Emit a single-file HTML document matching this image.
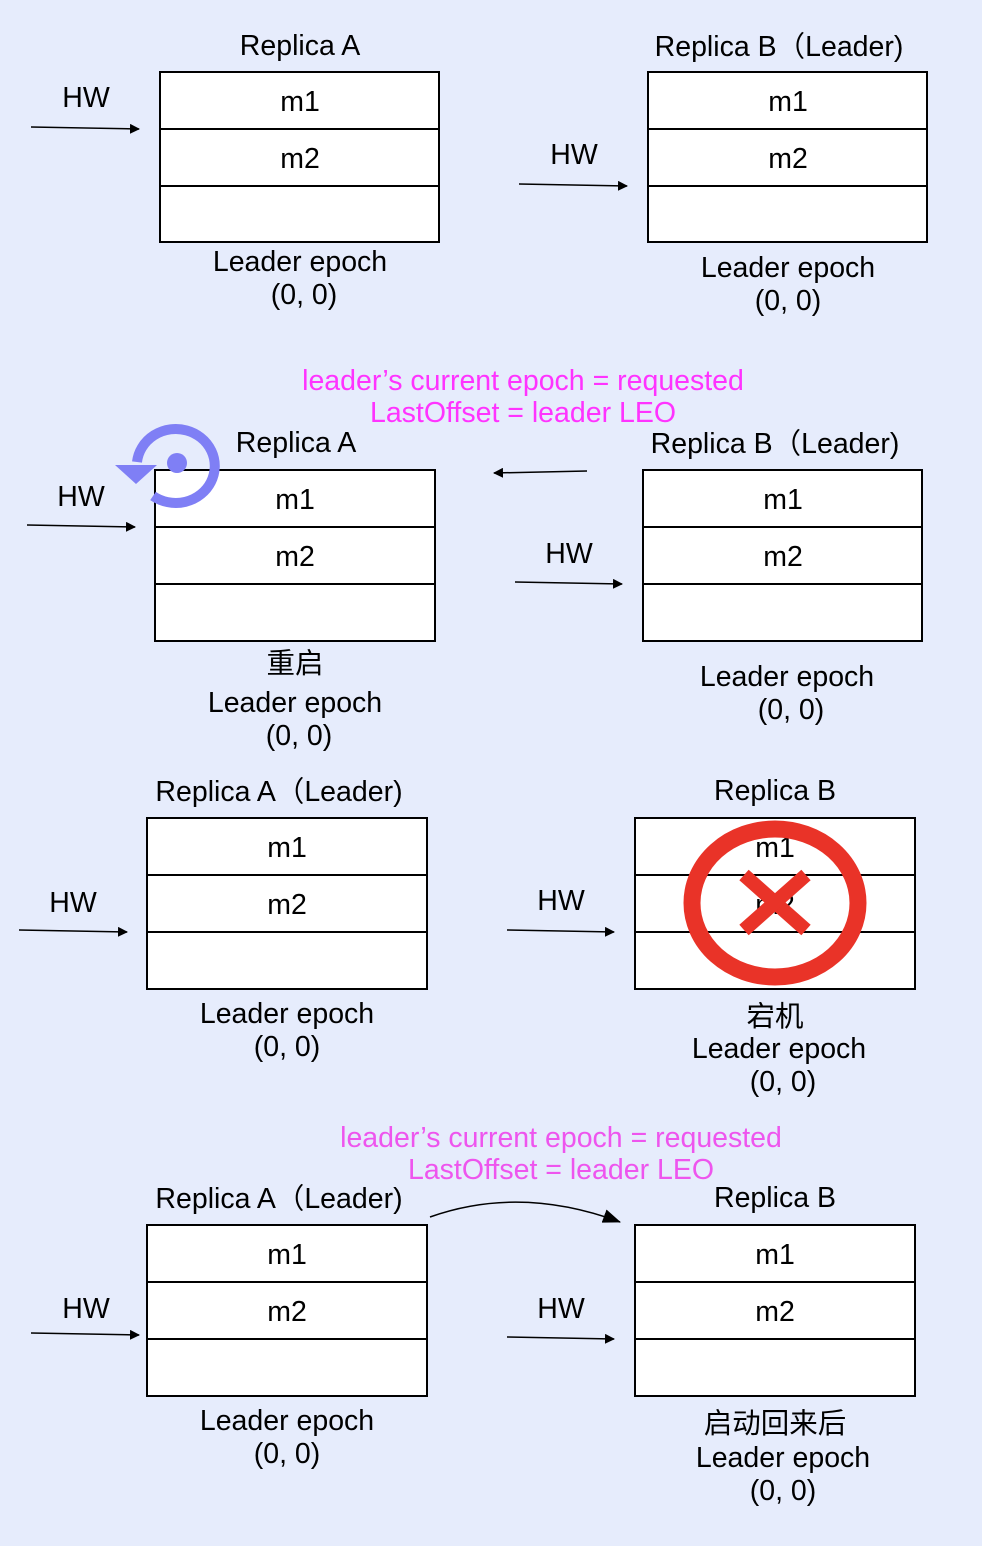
<!DOCTYPE html>
<html><head><meta charset="utf-8"><style>
html,body{margin:0;padding:0;background:#e6ecfc;}
svg{display:block;}
text{font-family:"Liberation Sans","Noto Sans CJK SC",sans-serif;font-size:28.5px;fill:#000;text-anchor:middle;}
.pk{fill:#ff33ff;}
.pk2{fill:#ee55ee;}
</style></head><body>
<svg width="982" height="1546" viewBox="0 0 982 1546" xmlns="http://www.w3.org/2000/svg">
<defs>
<marker id="ah" markerWidth="10" markerHeight="10" refX="9" refY="5" orient="auto" markerUnits="userSpaceOnUse">
<path d="M0,0 L10,5 L0,10 Z" fill="#000"/>
</marker>
<marker id="ah2" markerWidth="18" markerHeight="14" refX="17" refY="7" orient="auto" markerUnits="userSpaceOnUse">
<path d="M0,0 L18,7 L0,14 Z" fill="#000"/>
</marker>
</defs>
<rect width="982" height="1546" fill="#e6ecfc"/>
<g fill="#fff" stroke="#000" stroke-width="2">
<rect x="160" y="72" width="279" height="170"/><line x1="160" y1="129" x2="439" y2="129"/><line x1="160" y1="186" x2="439" y2="186"/>
<rect x="648" y="72" width="279" height="170"/><line x1="648" y1="129" x2="927" y2="129"/><line x1="648" y1="186" x2="927" y2="186"/>
<rect x="155" y="470" width="280" height="171"/><line x1="155" y1="527" x2="435" y2="527"/><line x1="155" y1="584" x2="435" y2="584"/>
<rect x="643" y="470" width="279" height="171"/><line x1="643" y1="527" x2="922" y2="527"/><line x1="643" y1="584" x2="922" y2="584"/>
<rect x="147" y="818" width="280" height="171"/><line x1="147" y1="875" x2="427" y2="875"/><line x1="147" y1="932" x2="427" y2="932"/>
<rect x="635" y="818" width="280" height="171"/><line x1="635" y1="875" x2="915" y2="875"/><line x1="635" y1="932" x2="915" y2="932"/>
<rect x="147" y="1225" width="280" height="171"/><line x1="147" y1="1282" x2="427" y2="1282"/><line x1="147" y1="1339" x2="427" y2="1339"/>
<rect x="635" y="1225" width="280" height="171"/><line x1="635" y1="1282" x2="915" y2="1282"/><line x1="635" y1="1339" x2="915" y2="1339"/>
</g>
<g stroke="#000" stroke-width="1.5" marker-end="url(#ah)">
<line x1="31" y1="127" x2="139" y2="129"/>
<line x1="519" y1="184" x2="627" y2="186"/>
<line x1="27" y1="525" x2="135" y2="527"/>
<line x1="515" y1="582" x2="622" y2="584"/>
<line x1="587" y1="471" x2="494" y2="473"/>
<line x1="19" y1="930" x2="127" y2="932"/>
<line x1="507" y1="930" x2="614" y2="932"/>
<line x1="31" y1="1333" x2="139" y2="1335"/>
<line x1="507" y1="1337" x2="614" y2="1339"/>
</g>
<path d="M430,1217 Q520,1185 620,1222" fill="none" stroke="#000" stroke-width="1.5" marker-end="url(#ah2)"/>
<!-- restart icon -->
<g>
<path d="M153,496 A39,37 0 1 0 137,462" fill="none" stroke="#7f7ff5" stroke-width="10"/>
<path d="M115,465 L157,465 L136,484 Z" fill="#7f7ff5"/>
<circle cx="177" cy="463" r="10" fill="#7f7ff5"/>
</g>
<g>
<text x="300" y="55">Replica A</text>
<text x="779" y="56">Replica B（Leader)</text>
<text x="86" y="107">HW</text><text x="574" y="164">HW</text>
<text x="300" y="111">m1</text><text x="300" y="168">m2</text>
<text x="788" y="111">m1</text><text x="788" y="168">m2</text>
<text x="300" y="271">Leader epoch</text><text x="304" y="304">(0, 0)</text>
<text x="788" y="277">Leader epoch</text><text x="788" y="310">(0, 0)</text>

<text class="pk" x="523" y="390">leader’s current epoch = requested</text>
<text class="pk" x="523" y="422">LastOffset = leader LEO</text>
<text x="296" y="452">Replica A</text>
<text x="775" y="453">Replica B（Leader)</text>
<text x="81" y="506">HW</text><text x="569" y="563">HW</text>
<text x="295" y="509">m1</text><text x="295" y="566">m2</text>
<text x="783" y="509">m1</text><text x="783" y="566">m2</text>
<text x="295" y="673">重启</text>
<text x="295" y="712">Leader epoch</text><text x="299" y="745">(0, 0)</text>
<text x="787" y="686">Leader epoch</text><text x="791" y="719">(0, 0)</text>

<text x="279" y="801">Replica A（Leader)</text>
<text x="775" y="800">Replica B</text>
<text x="73" y="912">HW</text><text x="561" y="910">HW</text>
<text x="287" y="857">m1</text><text x="287" y="914">m2</text>
<text x="775" y="857">m1</text><text x="775" y="914">m2</text>
<text x="287" y="1023">Leader epoch</text><text x="287" y="1056">(0, 0)</text>
<text x="775" y="1026">宕机</text>
<text x="779" y="1058">Leader epoch</text><text x="783" y="1091">(0, 0)</text>

<text class="pk2" x="561" y="1147">leader’s current epoch = requested</text>
<text class="pk2" x="561" y="1179">LastOffset = leader LEO</text>
<text x="279" y="1208">Replica A（Leader)</text>
<text x="775" y="1207">Replica B</text>
<text x="86" y="1318">HW</text><text x="561" y="1318">HW</text>
<text x="287" y="1264">m1</text><text x="287" y="1321">m2</text>
<text x="775" y="1264">m1</text><text x="775" y="1321">m2</text>
<text x="287" y="1430">Leader epoch</text><text x="287" y="1463">(0, 0)</text>
<text x="775" y="1433">启动回来后</text>
<text x="783" y="1467">Leader epoch</text><text x="783" y="1500">(0, 0)</text>
</g>
<!-- red X -->
<ellipse cx="775" cy="903" rx="83" ry="74" fill="none" stroke="#e93328" stroke-width="17"/>
<g stroke="#e93328" stroke-width="14">
<line x1="744" y1="875" x2="806" y2="930"/>
<line x1="806" y1="875" x2="744" y2="930"/>
</g>
</svg>
</body></html>
